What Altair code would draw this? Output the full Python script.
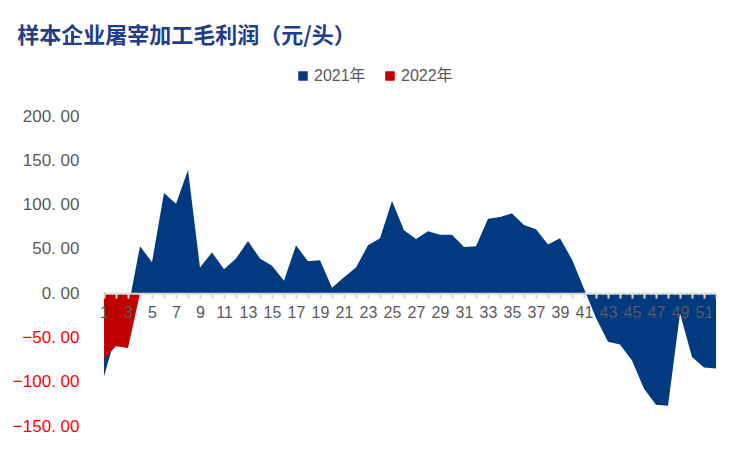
import altair as alt
import pandas as pd

weeks_2021 = list(range(1, 53))
values_2021 = [-94, -46, -18, 53, 35, 113, 101, 139, 29, 46, 27, 39, 59, 39, 31, 14,
               54, 36, 37, 6, 18, 29, 54, 62, 104, 71, 61, 70, 66, 66, 52, 53,
               84, 86, 90, 77, 72, 55, 62, 38, 5, -28, -55, -58, -76, -108, -126, -127,
               -23, -72, -84, -85]
weeks_2022 = [1, 2, 3, 4]
values_2022 = [-74, -60, -62, 0]
series_names = ["2021年", "2022年"]
series_colors = ["#023A82", "#C00000"]
y_ticks = [-150, -100, -50, 0, 50, 100, 150, 200]
x_ticks = list(range(1, 53))

rows = []
for w, v in zip(weeks_2021, values_2021):
    rows.append({"week": w, "value": v, "series": series_names[0]})
for w, v in zip(weeks_2022, values_2022):
    rows.append({"week": w, "value": v, "series": series_names[1]})
df = pd.DataFrame(rows)

W, H = 612, 310
ymin, ymax = -150, 200
x_offset = -H * (0 - ymin) / (ymax - ymin)

chart = alt.Chart(df).mark_area(interpolate="linear", opacity=1).encode(
    x=alt.X("week:Q",
            scale=alt.Scale(domain=[1, 52], nice=False, zero=False),
            axis=alt.Axis(values=x_ticks, title=None, grid=False,
                          labelExpr="datum.value % 2 == 1 ? datum.value : ''",
                          labelFont="Liberation Sans", labelFontSize=16,
                          labelColor="#595959", labelPadding=6,
                          labelOverlap=False, labelFlush=False,
                          domainColor="#D9D9D9", domainWidth=2,
                          tickColor="#D9D9D9", tickWidth=2, tickSize=5,
                          offset=x_offset, zindex=1)),
    y=alt.Y("value:Q", stack=None,
            scale=alt.Scale(domain=[ymin, ymax], nice=False),
            axis=alt.Axis(values=y_ticks, title=None, grid=False,
                          domain=False, ticks=False,
                          labelExpr="replace(format(datum.value, '.2f'), '.', '. ')",
                          labelFont="Liberation Sans", labelFontSize=17,
                          labelColor={"condition": {"test": "datum.value < 0", "value": "#FF0000"},
                                      "value": "#595959"},
                          labelPadding=25)),
    color=alt.Color("series:N",
                    scale=alt.Scale(domain=series_names, range=series_colors),
                    legend=alt.Legend(title=None, orient="none", direction="horizontal",
                                      legendX=191, legendY=-48,
                                      symbolType="square", symbolSize=90,
                                      symbolStrokeWidth=0, symbolOpacity=1,
                                      labelFont="Liberation Sans, Noto Sans CJK SC",
                                      labelFontSize=16, labelColor="#595959",
                                      labelOffset=3, columnPadding=16)),
    order=alt.Order("series:N")
).properties(
    width=W, height=H,
    title=alt.TitleParams("样本企业屠宰加工毛利润（元/头）", anchor="start",
                          font="Noto Sans CJK SC", fontSize=22, fontWeight="bold",
                          color="#1F3D8A", dx=5, offset=20),
    autosize=alt.AutoSizeParams(type="none"),
    padding={"left": 96, "top": 108, "right": 26, "bottom": 8}
).configure_view(stroke=None)

chart.save("out.html", embed_options={"renderer": "svg", "actions": False})
